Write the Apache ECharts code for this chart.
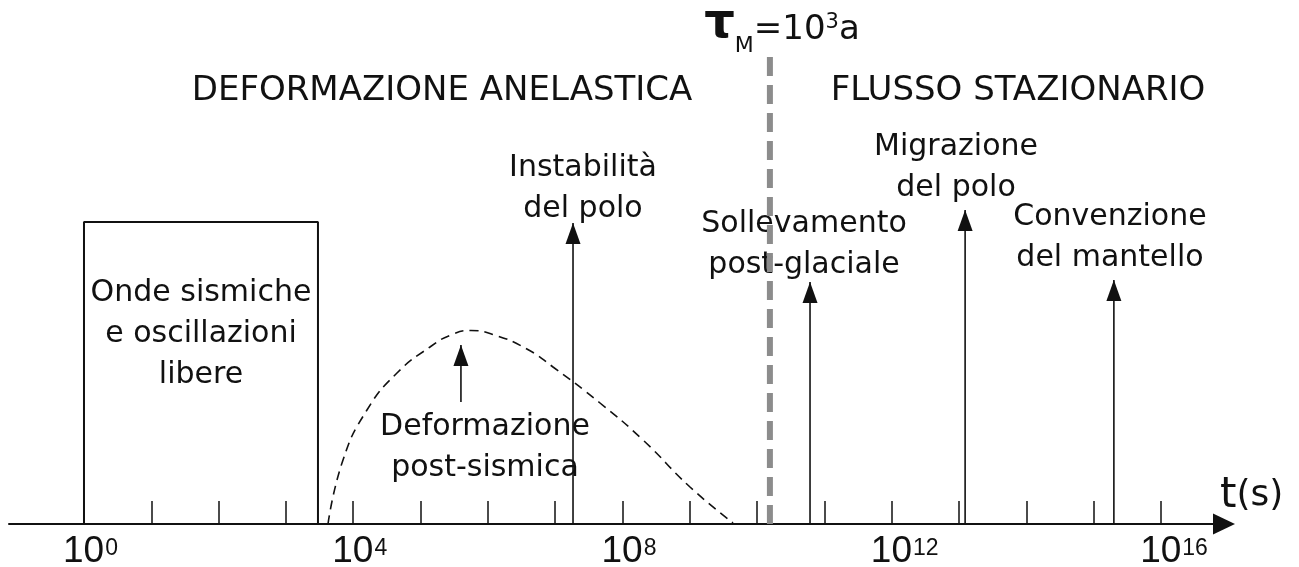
<!DOCTYPE html>
<html>
<head>
<meta charset="utf-8">
<script src="https://cdn.jsdelivr.net/npm/echarts@6/dist/echarts.min.js"></script>
<style>
  html, body { margin: 0; padding: 0; background: #fff; }
  #main { width: 1299px; height: 567px; }
</style>
</head>
<body>
<div id="main"></div>
<script>
// asse x = esponente di t(s) (scala log10), asse y = altezza sopra l'asse (px)
var tickExps = [0, 1, 2, 3, 4, 5, 6, 7, 8, 9, 10, 11, 12, 13, 14, 15, 16];
var labelExps = [0, 4, 8, 12, 16];
var labelPowers = ['0', '4', '8', '12', '16'];

// riquadro onde sismiche
var boxX = [0, 3.476];
var boxTop = 302;

// curva tratteggiata deformazione post-sismica
var curveX = [3.625, 3.848, 4.204, 4.650, 5.140, 5.45, 5.75, 6.10, 6.58, 6.968, 7.666, 8.305, 9.003, 9.642];
var curveY = [0, 64, 114, 151, 177, 189, 193.5, 189, 175, 157, 121, 84, 37, 1];

// frecce verticali
var arrowX = [7.265, 10.786, 13.09, 15.30];
var arrowTip = [301, 242, 314, 244];
var smallArrowX = 5.60;
var smallArrowY = [122, 179];

// tempo di Maxwell
var tauX = 10.19;
var tauTop = 467;

// testi
var noteTexts = [
  'DEFORMAZIONE ANELASTICA',
  'FLUSSO STAZIONARIO',
  'Onde sismiche\ne oscillazioni\nlibere',
  'Deformazione\npost-sismica',
  'Instabilità\ndel polo',
  'Sollevamento\npost-glaciale',
  'Migrazione\ndel polo',
  'Convenzione\ndel mantello',
  '{tau|τ}{sub|M}{n|=10}{sup|3}{n|a}'
];
var noteX = [5.319, 13.876, 1.738, 5.957, 7.413, 10.697, 12.955, 15.242, 10.37];
var noteY = [433, 433, 190, 76, 335, 279.5, 356, 286.5, 494];

var FONT = '"DejaVu Sans", sans-serif';
var INK = '#111';

var myChart = echarts.init(document.getElementById('main'));

var series = [];

series.push({
  name: 'box',
  type: 'line',
  silent: true,
  symbol: 'none',
  lineStyle: { color: INK, width: 2 },
  data: [[boxX[0], 0], [boxX[0], boxTop], [boxX[1], boxTop], [boxX[1], 0]]
});

series.push({
  name: 'post-sismica',
  type: 'line',
  silent: true,
  symbol: 'none',
  smooth: 0.5,
  lineStyle: { color: INK, width: 1.6, type: [9, 6] },
  data: curveX.map(function (x, i) { return [x, curveY[i]]; })
});

function arrowSeries(x, y0, y1, size) {
  return {
    type: 'line',
    silent: true,
    lineStyle: { color: INK, width: 1.6 },
    itemStyle: { color: INK },
    data: [
      { value: [x, y0], symbol: 'none' },
      { value: [x, y1], symbol: 'triangle', symbolSize: size, symbolOffset: [0, size[1] / 2] }
    ]
  };
}

arrowX.forEach(function (x, i) {
  series.push(arrowSeries(x, 0, arrowTip[i], [15, 21]));
});
series.push(arrowSeries(smallArrowX, smallArrowY[0], smallArrowY[1], [15, 21]));

series.push({
  name: 'tau',
  type: 'line',
  silent: true,
  symbol: 'none',
  lineStyle: { color: '#8c8c8c', width: 6, type: [19, 9], cap: 'butt' },
  data: [[tauX, tauTop], [tauX, 0]]
});

series.push({
  name: 'testi',
  type: 'custom',
  silent: true,
  clip: false,
  data: noteX.map(function (x, i) { return [x, noteY[i]]; }),
  renderItem: function (params, api) {
    var p = api.coord([api.value(0), api.value(1)]);
    var i = params.dataIndex;
    var size = i < 2 ? 34 : 30;
    return {
      type: 'text',
      x: p[0],
      y: p[1],
      style: {
        text: noteTexts[i],
        fill: INK,
        font: size + 'px ' + FONT,
        align: 'center',
        verticalAlign: 'middle',
        lineHeight: 41,
        rich: {
          tau: { fontSize: 48, fontWeight: 'bold', fontFamily: FONT, fill: INK, padding: [0, 0, 10, 0] },
          sub: { fontSize: 22, fontFamily: FONT, fill: INK, padding: [32, 0, 0, 0] },
          n: { fontSize: 34, fontFamily: FONT, fill: INK },
          sup: { fontSize: 21, fontFamily: FONT, fill: INK, padding: [0, 0, 14, 0] }
        }
      }
    };
  }
});

var option = {
  backgroundColor: '#fff',
  animation: false,
  grid: { left: 9, right: 75, top: 0, bottom: 43, outerBoundsMode: 'none' },
  xAxis: {
    type: 'value',
    min: -1.114,
    max: 16.936,
    splitLine: { show: false },
    axisLine: {
      onZero: false,
      lineStyle: { color: INK, width: 2 },
      symbol: ['none', 'triangle'],
      symbolSize: [21, 22]
    },
    axisTick: {
      customValues: tickExps,
      inside: true,
      length: 23,
      lineStyle: { color: INK, width: 1.5 }
    },
    axisLabel: {
      customValues: labelExps,
      margin: 10,
      formatter: function (v) {
        var k = labelExps.indexOf(Math.round(v));
        if (k < 0) return '';
        var pw = labelPowers[k];
        return '{' + (pw.length > 1 ? 'b2' : 'b1') + '|10}{e|' + pw + '}';
      },
      rich: {
        b1: { fontSize: 37, fontFamily: 'Liberation Sans', color: INK, lineHeight: 36, padding: [0, 0, 0, 13] },
        b2: { fontSize: 37, fontFamily: 'Liberation Sans', color: INK, lineHeight: 36, padding: [0, 0, 0, 26] },
        e: { fontSize: 23, fontFamily: 'Liberation Sans', color: INK, padding: [0, 0, 6, 1] }
      }
    },
    name: '{t|t}{s|(s)}',
    nameLocation: 'end',
    nameGap: -4,
    nameTextStyle: {
      align: 'left',
      verticalAlign: 'bottom',
      padding: [0, 0, 6, 0],
      rich: {
        t: { fontSize: 42, fontFamily: FONT, color: INK, lineHeight: 44 },
        s: { fontSize: 36, fontFamily: FONT, color: INK, lineHeight: 44 }
      }
    }
  },
  yAxis: {
    type: 'value',
    min: 0,
    max: 524,
    show: false
  },
  series: series
};

myChart.setOption(option);
</script>
</body>
</html>
